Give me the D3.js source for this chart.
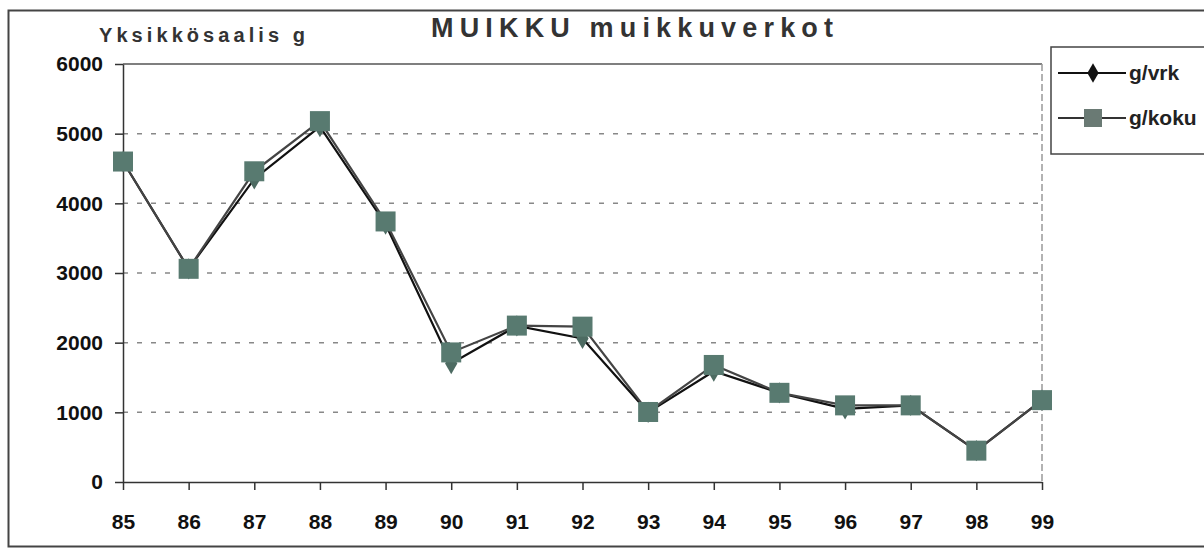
<!DOCTYPE html>
<html>
<meta charset="utf-8">
<style>
  body { margin: 0; background: #fff; }
  svg { display: block; font-family: "Liberation Sans", Arial, sans-serif; }
  .axis text { font-family: "Liberation Sans", Arial, sans-serif; font-size: 21px; font-weight: bold; fill: #111; }
  .axis path, .axis line { stroke: #333; stroke-width: 1.5; }
</style>
<body>
  <svg width="1204" height="555"></svg>
</body>
<script src="https://d3js.org/d3.v7.min.js"></script>
<script>

var years = ["85","86","87","88","89","90","91","92","93","94","95","96","97","98","99"];
var gVrk  = [4600, 3060, 4350, 5100, 3700, 1700, 2240, 2060, 1000, 1590, 1280, 1050, 1100, 450, 1175];
var gKoku = [4600, 3060, 4460, 5180, 3740, 1860, 2245, 2230, 1005, 1680, 1280, 1100, 1100, 450, 1175];
var yTicks = [0, 1000, 2000, 3000, 4000, 5000, 6000];

var margin = {top: 64, right: 162, bottom: 73, left: 123},
    width = 1204 - margin.left - margin.right,
    height = 555 - margin.top - margin.bottom;

var svg = d3.select("svg");

// outer frame
svg.append("rect")
  .attr("x", 8.5).attr("y", 10.5)
  .attr("width", 1210).attr("height", 536)
  .attr("fill", "none").attr("stroke", "#444").attr("stroke-width", 2);

svg.append("text")
  .attr("x", 431).attr("y", 37)
  .attr("textLength", 402).attr("lengthAdjust", "spacing")
  .style("font-size", "27px").style("font-weight", "bold").style("fill", "#333")
  .text("MUIKKU muikkuverkot");

svg.append("text")
  .attr("x", 99).attr("y", 42)
  .attr("textLength", 206).attr("lengthAdjust", "spacing")
  .style("font-size", "20px").style("font-weight", "bold").style("fill", "#333")
  .text("Yksikkösaalis g");

var g = svg.append("g")
  .attr("transform", "translate(" + margin.left + "," + margin.top + ")");

var xScale = d3.scalePoint()
  .domain(years)
  .range([0, width]);

var yScale = d3.scaleLinear()
  .domain([0, 6000])
  .range([height, 0]);

// grid lines
g.selectAll(".grid")
  .data(yTicks.filter(function(d){ return d > 0 && d < 6000; }))
  .enter().append("line")
    .attr("class", "grid")
    .attr("x1", 0).attr("x2", width)
    .attr("y1", function(d){ return yScale(d); })
    .attr("y2", function(d){ return yScale(d); })
    .attr("stroke", "#888")
    .attr("stroke-width", 1.5)
    .attr("stroke-dasharray", "5,9");

// top border and right edge of plot
g.append("line")
  .attr("x1", 0).attr("x2", width).attr("y1", 0).attr("y2", 0)
  .attr("stroke", "#555").attr("stroke-width", 1.5);
g.append("line")
  .attr("x1", width).attr("x2", width).attr("y1", 0).attr("y2", height)
  .attr("stroke", "#999").attr("stroke-width", 1.5)
  .attr("stroke-dasharray", "7,3");

var xAxis = d3.axisBottom(xScale).tickSizeInner(8).tickSizeOuter(0).tickPadding(24);
var yAxis = d3.axisLeft(yScale).tickValues(yTicks).tickFormat(d3.format("d"))
  .tickSizeInner(8).tickSizeOuter(0).tickPadding(12);

g.append("g")
  .attr("class", "x axis")
  .attr("transform", "translate(0," + height + ")")
  .call(xAxis);

g.append("g")
  .attr("class", "y axis")
  .call(yAxis);

g.selectAll(".axis").attr("font-size", null).attr("font-family", null);
g.select(".x.axis path").attr("stroke-width", 2.5);

var line = function(vals) {
  return d3.line()
    .x(function(d, i){ return xScale(years[i]); })
    .y(function(d){ return yScale(d); })(vals);
};

// g/vrk series
g.append("path")
  .attr("d", line(gVrk))
  .attr("fill", "none").attr("stroke", "#111").attr("stroke-width", 2.2);

var diamond = d3.symbol().type(d3.symbolDiamond).size(130);
g.selectAll(".vrk")
  .data(gVrk)
  .enter().append("path")
    .attr("class", "vrk")
    .attr("d", diamond)
    .attr("transform", function(d, i){ return "translate(" + xScale(years[i]) + "," + yScale(d) + ")"; })
    .attr("fill", "#4d6b62");

// g/koku series
g.append("path")
  .attr("d", line(gKoku))
  .attr("fill", "none").attr("stroke", "#444").attr("stroke-width", 2.2);

var sq = 20;
g.selectAll(".koku")
  .data(gKoku)
  .enter().append("rect")
    .attr("class", "koku")
    .attr("x", function(d, i){ return xScale(years[i]) - sq / 2; })
    .attr("y", function(d){ return yScale(d) - sq / 2; })
    .attr("width", sq).attr("height", sq)
    .attr("fill", "#587a70");

// legend
var legend = svg.append("g");
legend.append("rect")
  .attr("x", 1051).attr("y", 47)
  .attr("width", 170).attr("height", 107)
  .attr("fill", "#fff").attr("stroke", "#444").attr("stroke-width", 1.5);

legend.append("line")
  .attr("x1", 1058).attr("x2", 1126).attr("y1", 73).attr("y2", 73)
  .attr("stroke", "#111").attr("stroke-width", 2.2);
legend.append("path")
  .attr("d", d3.symbol().type(d3.symbolDiamond).size(110)())
  .attr("transform", "translate(1093,73)")
  .attr("fill", "#111");
legend.append("text")
  .attr("x", 1129).attr("y", 80)
  .style("font-size", "21px").style("font-weight", "bold").style("fill", "#222")
  .text("g/vrk");

legend.append("line")
  .attr("x1", 1058).attr("x2", 1126).attr("y1", 118).attr("y2", 118)
  .attr("stroke", "#333").attr("stroke-width", 2.2);
legend.append("rect")
  .attr("x", 1084).attr("y", 109).attr("width", 18).attr("height", 18)
  .attr("fill", "#6a7a74");
legend.append("text")
  .attr("x", 1129).attr("y", 125)
  .style("font-size", "21px").style("font-weight", "bold").style("fill", "#222")
  .text("g/koku");

</script>
</html>
